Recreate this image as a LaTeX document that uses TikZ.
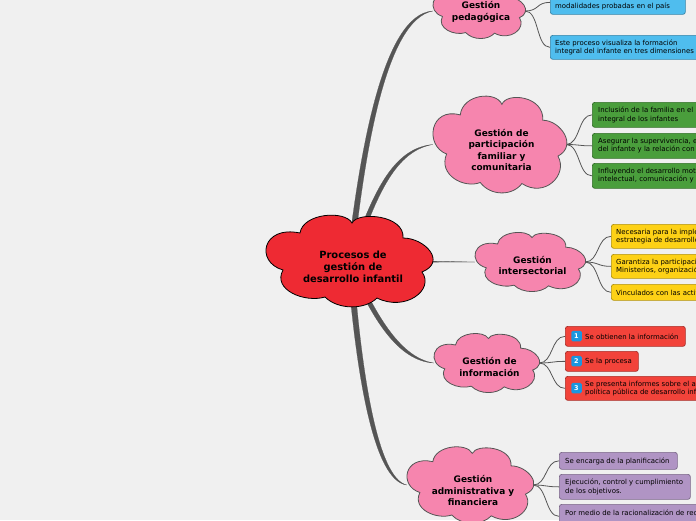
\documentclass[tikz,border=0pt]{standalone}
\usepackage{fontspec}
\setmainfont{DejaVu Sans}
\usetikzlibrary{calc}
\definecolor{bgc}{HTML}{F0F0F0}
\definecolor{redc}{HTML}{EE2A33}
\definecolor{pinkc}{HTML}{F685AE}
\definecolor{linec}{HTML}{555555}
\definecolor{bluec}{HTML}{4FBDEE}
\definecolor{greenc}{HTML}{4A9E3C}
\definecolor{yellowc}{HTML}{FDD116}
\definecolor{redl}{HTML}{F2433A}
\definecolor{purplec}{HTML}{B094C4}
\definecolor{badgec}{HTML}{1A96E0}
\newcommand{\cloudshape}[6]{% x0 y0 w h fill draw
  \path[fill=#5,draw=#6,line width=.8pt,shift={(#1,#2)},xscale=#3/166,yscale=#4/90]
   (34,17) .. controls (37,-3) and (79,-6) .. (86,7)
   .. controls (92,-5) and (139,-1) .. (137,22)
   .. controls (159,22) and (181,46) .. (156,56)
   .. controls (169,74) and (139,96) .. (111,82)
   .. controls (99,94) and (72,94) .. (59,81)
   .. controls (39,87) and (6,74) .. (17,54)
   .. controls (-11,46) and (-4,9) .. (34,17) -- cycle;}
\tikzset{x=1pt,y=-1pt,
  cloudlabel/.style={align=center,font=\fontsize{8.95}{11.4}\selectfont\bfseries,text=black,inner sep=0pt},
  mainlabel/.style={align=center,font=\fontsize{9.9}{12}\selectfont\bfseries,text=black,inner sep=0pt},
  leaf/.style={draw=#1!70!black,fill=#1,rounded corners=2.5pt,line width=.7pt,anchor=north west,inner sep=0pt},
  leaftext/.style={anchor=west,align=left,font=\fontsize{6.95}{8.8}\selectfont,text=black,inner sep=0pt},
  branch/.style={fill=linec,draw=linec,line width=.2pt},
  twig/.style={draw=linec,line width=.8pt},
  badge/.style={fill=badgec,rounded corners=1.5pt,minimum size=10.5pt,inner sep=0pt,text=white,font=\fontsize{6.5}{6.5}\selectfont\bfseries}}
\begin{document}
\begin{tikzpicture}
\useasboundingbox (0,0) rectangle (696,520);
\clip (0,0) rectangle (696,520);
\fill[bgc] (0,0) rectangle (696,520);
% invisible anchors of the clouds
\node[minimum width=166pt,minimum height=90pt,inner sep=0pt] (main) at (349,261) {};
\node[minimum width=92pt,minimum height=54pt,inner sep=0pt] (ped) at (479,11) {};
\node[minimum width=133pt,minimum height=95pt,inner sep=0pt] (par) at (499.5,144.5) {};
\node[minimum width=110pt,minimum height=58pt,inner sep=0pt] (int) at (530,262) {};
\node[minimum width=105pt,minimum height=58pt,inner sep=0pt] (inf) at (486.5,363) {};
\node[minimum width=126pt,minimum height=75pt,inner sep=0pt] (adm) at (470,485) {};
% leaf boxes
\node[leaf=bluec,minimum width=135pt,minimum height=24pt] (b1) at (550,-10) {};
\node[leaf=bluec,minimum width=160pt,minimum height=24pt] (b2) at (550,35) {};
\node[leaf=greenc,minimum width=160pt,minimum height=25pt] (g1) at (592,102) {};
\node[leaf=greenc,minimum width=160pt,minimum height=25pt] (g2) at (592,133) {};
\node[leaf=greenc,minimum width=160pt,minimum height=25pt] (g3) at (592,163) {};
\node[leaf=yellowc,minimum width=160pt,minimum height=24pt] (y1) at (611,224) {};
\node[leaf=yellowc,minimum width=160pt,minimum height=24pt] (y2) at (611,254) {};
\node[leaf=yellowc,minimum width=160pt,minimum height=16pt] (y3) at (611,284) {};
\node[leaf=redl,minimum width=120pt,minimum height=20pt] (r1) at (565,326) {};
\node[leaf=redl,minimum width=73pt,minimum height=20pt] (r2) at (565,351) {};
\node[leaf=redl,minimum width=160pt,minimum height=24pt] (r3) at (565,376) {};
\node[leaf=purplec,minimum width=118pt,minimum height=17pt] (p1) at (559,452) {};
\node[leaf=purplec,minimum width=131pt,minimum height=25pt] (p2) at (559,474) {};
\node[leaf=purplec,minimum width=160pt,minimum height=24pt] (p3) at (559,504) {};
% thick branches
\path[branch] ($(main.center)+(-2,0)$) .. controls (360,150) and (383,14) .. (ped.west) .. controls (386,20) and (365,150) .. ($(main.center)+(4,0)$) -- cycle;
\path[branch] ($(main.center)+(0,0)$) .. controls (373,190) and (394,148) .. (par.west) .. controls (396,151) and (377,193) .. ($(main.center)+(5,0)$) -- cycle;
\path[branch] ($(main.center)+(0,-1.5)$) -- (int.west) -- ($(main.center)+(0,1.5)$) -- cycle;
\path[branch] ($(main.center)+(3,0)$) .. controls (377,319) and (402,358) .. (inf.west) .. controls (399,361) and (373,322) .. ($(main.center)+(-2,0)$) -- cycle;
\path[branch] ($(main.center)+(4,0)$) .. controls (361,370) and (377,478) .. (adm.west) .. controls (373,481) and (356,372) .. ($(main.center)+(-2,0)$) -- cycle;
% twigs
\foreach \s/\t in {ped/b1,ped/b2,par/g1,par/g2,par/g3,int/y1,int/y2,int/y3,inf/r1,inf/r2,inf/r3,adm/p1,adm/p2,adm/p3}{
  \draw[twig] (\s.east) .. controls +(14,0) and ($(\t.west)+(-14,0)$) .. (\t.west);
}
% clouds
\cloudshape{266}{216}{166}{90}{redc}{black}
\cloudshape{433}{-16}{92}{54}{pinkc}{linec}
\cloudshape{433}{97}{133}{95}{pinkc}{linec}
\cloudshape{475}{233}{110}{58}{pinkc}{linec}
\cloudshape{434}{334}{105}{58}{pinkc}{linec}
\cloudshape{407}{447.5}{126}{75}{pinkc}{linec}
% cloud labels
\node[mainlabel] at (353,267) {Procesos de\\gestión de\\desarrollo infantil};
\node[cloudlabel] at (481,12) {Gestión\\pedagógica};
\node[cloudlabel] at (501.5,150) {Gestión de\\participación\\familiar y\\comunitaria};
\node[cloudlabel] at (532.5,265.5) {Gestión\\intersectorial};
\node[cloudlabel] at (489.5,367) {Gestión de\\información};
\node[cloudlabel] at (473,490.5) {Gestión\\administrativa y\\financiera};
% leaf texts
\node[leaftext] at (555,6.5) {modalidades probadas en el país};
\node[leaftext] at (555,47.5) {Este proceso visualiza la formación\\integral del infante en tres dimensiones};
\node[leaftext] at (598,115) {Inclusión de la familia en el\\integral de los infantes};
\node[leaftext] at (598,145.5) {Asegurar la supervivencia, e\\del infante y la relación con};
\node[leaftext] at (598,175.5) {Influyendo el desarrollo mot\\intelectual, comunicación y};
\node[leaftext] at (616,236.5) {Necesaria para la imple\\estrategia de desarrollo};
\node[leaftext] at (616,266.5) {Garantiza la participación\\Ministerios, organización};
\node[leaftext] at (616,292.5) {Vinculados con las activ};
\node[leaftext] at (585,336.5) {Se obtienen la información};
\node[leaftext] at (585,361.5) {Se la procesa};
\node[leaftext] at (585,388.5) {Se presenta informes sobre el a\\política pública de desarrollo inf};
\node[leaftext] at (565,461) {Se encarga de  la planificación};
\node[leaftext] at (565,487) {Ejecución, control y cumplimiento\\de los objetivos.};
\node[leaftext] at (565,512.5) {Por medio de la racionalización de rec};
% badges
\node[badge] at (576.5,336) {1};
\node[badge] at (576.5,361) {2};
\node[badge] at (576.5,388) {3};
\end{tikzpicture}
\end{document}
